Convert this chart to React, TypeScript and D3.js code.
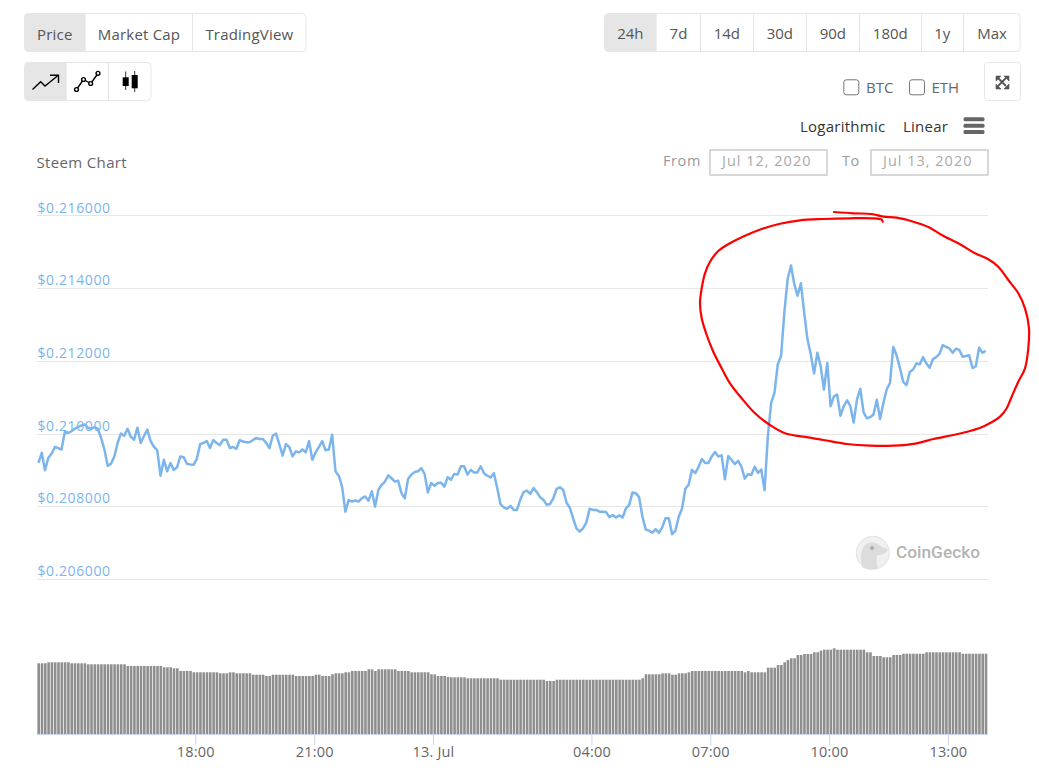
import React from "react";
import * as d3 from "d3";

// Price every five minutes, from 14:00 on 12 Jul 2020 (USD)
const prices = [
  0.20919,0.20947,0.20899,0.20933,0.20945,0.20963,0.20960,0.20956,0.21004,0.21002,0.21006,0.21013,
  0.21018,0.21022,0.21025,0.21016,0.21013,0.21018,0.21013,0.20988,0.20956,0.20911,0.20917,0.20937,
  0.20974,0.21000,0.20994,0.21013,0.20991,0.20983,0.21016,0.20974,0.20993,0.21011,0.20979,0.20963,
  0.20954,0.20884,0.20928,0.20896,0.20919,0.20900,0.20907,0.20937,0.20935,0.20917,0.20915,0.20914,
  0.20930,0.20971,0.20974,0.20979,0.20960,0.20982,0.20974,0.20968,0.20983,0.20983,0.20960,0.20963,
  0.20958,0.20982,0.20978,0.20976,0.20976,0.20982,0.20988,0.20985,0.20985,0.20974,0.20960,0.20994,
  0.21000,0.20970,0.20939,0.20971,0.20963,0.20937,0.20951,0.20948,0.20956,0.20948,0.20979,0.20928,
  0.20948,0.20963,0.20979,0.20954,0.20956,0.20997,0.20896,0.20884,0.20854,0.20785,0.20817,0.20813,
  0.20816,0.20813,0.20822,0.20827,0.20815,0.20841,0.20799,0.20845,0.20859,0.20868,0.20885,0.20877,
  0.20868,0.20870,0.20836,0.20822,0.20875,0.20887,0.20894,0.20896,0.20905,0.20889,0.20838,0.20864,
  0.20856,0.20864,0.20865,0.20854,0.20880,0.20873,0.20889,0.20887,0.20910,0.20910,0.20887,0.20900,
  0.20893,0.20893,0.20910,0.20891,0.20884,0.20879,0.20891,0.20850,0.20806,0.20797,0.20793,0.20801,
  0.20790,0.20790,0.20818,0.20839,0.20843,0.20834,0.20850,0.20839,0.20825,0.20818,0.20804,0.20806,
  0.20822,0.20848,0.20852,0.20845,0.20810,0.20796,0.20767,0.20739,0.20730,0.20739,0.20755,0.20793,
  0.20790,0.20790,0.20785,0.20785,0.20784,0.20770,0.20776,0.20769,0.20775,0.20769,0.20794,0.20804,
  0.20838,0.20836,0.20825,0.20771,0.20736,0.20733,0.20727,0.20737,0.20727,0.20742,0.20767,0.20767,
  0.20723,0.20733,0.20771,0.20794,0.20848,0.20859,0.20900,0.20891,0.20908,0.20930,0.20919,0.20919,
  0.20937,0.20949,0.20937,0.20940,0.20874,0.20938,0.20927,0.20916,0.20925,0.20909,0.20876,0.20888,
  0.20886,0.20909,0.20892,0.20901,0.20844,0.20992,0.21084,0.21112,0.21190,0.21213,0.21333,0.21425,
  0.21462,0.21411,0.21379,0.21413,0.21333,0.21259,0.21218,0.21165,0.21222,0.21185,0.21121,0.21194,
  0.21075,0.21102,0.21107,0.21049,0.21075,0.21091,0.21075,0.21030,0.21093,0.21123,0.21058,0.21042,
  0.21045,0.21052,0.21093,0.21040,0.21084,0.21121,0.21139,0.21238,0.21215,0.21181,0.21142,0.21133,
  0.21169,0.21176,0.21193,0.21190,0.21210,0.21193,0.21181,0.21204,0.21210,0.21219,0.21243,0.21238,
  0.21234,0.21222,0.21233,0.21230,0.21211,0.21213,0.21215,0.21180,0.21185,0.21236,0.21222,0.21227,
];

// Traded volume for the same five-minute points (relative units)
const volumes = [
  71.2,71.2,71.2,72.2,72.2,72.2,72.2,72.2,72.2,72.2,71.2,71.2,71.2,71.2,71.2,70.2,70.2,70.2,70.2,70.2,70.2,70.2,70.2,70.2,
  70.2,70.2,70.2,68.5,68.5,68.5,68.5,68.5,68.5,68.5,68.5,68.5,68.5,68.5,67.2,67.2,67.2,66.2,66.2,63.5,63.5,63.5,63.5,62.2,
  62.2,62.2,62.2,62.2,62.2,62.2,62.2,61.2,61.2,61.2,62.2,62.2,61.2,61.2,61.2,61.2,61.2,59.8,59.8,59.8,59.8,58.5,58.5,59.8,
  59.8,59.8,59.8,59.8,59.8,59.8,58.5,58.5,58.5,58.5,58.5,58.5,59.8,59.8,58.5,58.5,58.5,60.2,61.2,61.2,61.2,62.2,62.2,63.5,
  63.5,63.5,63.5,63.5,65.2,65.2,63.5,65.2,65.2,65.2,65.2,65.2,65.2,63.5,63.5,63.5,63.5,62.2,62.2,62.2,62.2,62.2,62.2,60.2,
  60.2,58.5,58.5,58.5,57.5,57.2,57.2,57.2,57.2,57.2,56.2,56.2,56.2,56.2,56.2,56.2,56.2,56.2,56.2,56.2,54.8,54.8,54.8,54.8,
  54.8,54.8,54.8,54.8,54.8,54.8,54.8,54.8,54.8,54.8,53.5,53.5,53.5,54.8,54.8,54.8,54.8,54.8,54.8,54.8,54.8,54.8,54.8,54.8,
  54.8,54.8,54.8,54.8,54.8,54.8,54.8,54.8,54.8,54.8,54.8,54.8,54.8,54.8,54.8,56.2,60.2,60.2,60.2,60.2,60.2,61.2,61.2,61.2,
  59.8,59.8,61.2,61.2,61.2,62.2,63.5,63.5,63.5,63.5,63.5,63.5,63.5,63.5,63.5,63.5,63.5,63.5,63.5,63.5,63.5,63.5,62.2,63.5,
  62.2,62.2,62.2,62.2,62.2,66.8,66.8,66.8,69.5,69.5,72.2,74.5,76.2,76.2,79.5,79.5,80.5,80.5,80.5,82.2,82.2,83.8,84.8,84.8,
  84.8,86.2,84.8,84.8,84.8,84.8,84.8,84.8,84.8,84.8,84.8,82.2,82.2,78.5,78.5,78.5,77.2,77.2,77.2,79.5,79.5,79.5,80.8,80.8,
  80.8,80.8,80.8,80.8,80.8,82.2,82.2,82.2,82.2,82.2,82.2,82.2,82.2,82.2,82.2,82.2,80.8,80.8,80.8,80.8,80.8,80.8,80.8,80.8,
];

const priceTicks = [0.206, 0.208, 0.21, 0.212, 0.214, 0.216];
const timeTicks: [number, number, string][] = [
  [12, 18, "18:00"], [12, 21, "21:00"], [13, 0, "13. Jul"], [13, 4, "04:00"], [13, 7, "07:00"], [13, 10, "10:00"], [13, 13, "13:00"],
];
const rangeButtons = ["24h", "7d", "14d", "30d", "90d", "180d", "1y", "Max"];
const rangeEdges = [604, 656.7, 700.3, 753.3, 806.3, 859.3, 921.3, 963.3, 1020.7];
const viewButtons = ["Price", "Market Cap", "TradingView"];
const viewEdges = [24, 85.7, 192.3, 306.5];
const iconEdges = [24, 66.7, 108.3, 151.5];

// The hand-drawn red ring, as screen points
const ringPoints: [number, number][] = [
  [882.7,221.7],[881.7,219.7],[871.7,218.3],[850,218.3],[823.3,219],[800,220.3],[780,223.7],[761.7,229],[745,235.7],[731.7,242.3],
  [718.3,251],[710,261.7],[705,273.3],[701.7,288.3],[700,303.3],[701.7,318.3],[706.7,335],[713.3,351.7],[721.7,368.3],[730,383.3],
  [741.7,398.3],[755,413.3],[770,425],[785,433.3],[803.3,436.7],[823.3,440],[846.7,444],[870,445.7],[893.3,445.7],[916.7,443.3],
  [933.3,439],[953.3,435],[970,431],[985,425.7],[1000,416.7],[1006.7,408.3],[1011.7,396.7],[1018.3,381.7],[1025,368.3],[1028.3,348.3],
  [1029,328.3],[1025,308.3],[1018.3,293.3],[1008.3,280],[998.3,266.7],[988.3,259.3],[975,253.3],[960,244.3],[941.7,235],[928.3,227],
  [913.3,221.7],[896.7,217.7],[883.3,216.7],[871.7,214],[853.3,213.3],[834,212],
];

const W = 1039;
const H = 781;
const FONT = "'Open Sans', 'Noto Sans', sans-serif";
const start = Date.UTC(2020, 6, 12, 14);
const end = Date.UTC(2020, 6, 13, 14);
const STEP = 5 * 60 * 1000;

function ButtonGroup({ edges, top, bottom, active }: { edges: number[]; top: number; bottom: number; active: number }) {
  const left = edges[0];
  const right = edges[edges.length - 1];
  return (
    <g>
      <rect x={left + 0.5} y={top + 0.5} width={right - left - 1} height={bottom - top - 1} rx={4} fill="#fff" stroke="#e6e6e6" />
      <path
        d={`M${edges[active + 1]},${top + 0.5}H${left + 4.5}a4,4 0 0 0 -4,4V${bottom - 4.5}a4,4 0 0 0 4,4H${edges[active + 1]}Z`}
        fill="#e6e6e6"
      />
      {edges.slice(active + 2, -1).map((x) => (
        <line key={x} x1={Math.floor(x) + 0.5} x2={Math.floor(x) + 0.5} y1={top} y2={bottom} stroke="#e6e6e6" />
      ))}
    </g>
  );
}

export default function App() {
  const x = d3.scaleUtc().domain([start, end]).range([37.4, 988]);
  const y = d3.scaleLinear().domain([0.206, 0.216]).range([579, 215.3]);
  const v = d3.scaleLinear().domain([0, 90]).range([734.5, 644.5]);

  const line = d3
    .line<number>()
    .x((_, i) => x(start + i * STEP) + 1)
    .y((d) => y(d));
  const ring = d3.line().curve(d3.curveCatmullRom.alpha(0.5));

  return (
    <svg width={W} height={H} viewBox={`0 0 ${W} ${H}`} style={{ position: "absolute", left: 0, top: 0, display: "block" }} fontFamily={FONT}>
      <rect width={W} height={H} fill="#fff" />

      {/* Top controls */}
      <ButtonGroup edges={viewEdges} top={13} bottom={52} active={0} />
      {viewButtons.map((t, i) => (
        <text key={t} x={(viewEdges[i] + viewEdges[i + 1]) / 2} y={39.5} textAnchor="middle" fontSize={15} letterSpacing={0.2} fill="#555">{t}</text>
      ))}
      <ButtonGroup edges={rangeEdges} top={13} bottom={52} active={0} />
      {rangeButtons.map((t, i) => (
        <text key={t} x={(rangeEdges[i] + rangeEdges[i + 1]) / 2} y={39} textAnchor="middle" fontSize={15} fill="#555">{t}</text>
      ))}
      <ButtonGroup edges={iconEdges} top={62} bottom={101} active={0} />

      {/* Chart type icons */}
      <g fill="none" stroke="#000" strokeWidth={1.4}>
        <path d="M32.5,89.5L40.7,81.7L45,86L58,75.5" />
        <path d="M50,75.2H58.5V83" />
        <path d="M76.5,89.5L83.5,79.5M83.5,79.5L90.7,83.5M90.7,83.5L98,73.5" />
        <circle cx={76.5} cy={89.5} r={1.9} fill="#fff" />
        <circle cx={83.5} cy={79.5} r={1.9} fill="#fff" />
        <circle cx={90.7} cy={83.5} r={1.9} fill="#fff" />
        <circle cx={98} cy={73.3} r={1.9} fill="#fff" />
        <path d="M125.7,71.5V90M134.7,71V92" stroke="#333" strokeWidth={1} />
      </g>
      <rect x={122.7} y={77.3} width={6} height={8.7} fill="#000" />
      <rect x={131.7} y={75} width={6} height={13.3} fill="#000" />

      {/* Comparison toggles */}
      <rect x={843.8} y={79.8} width={15} height={15} rx={2.5} fill="#fff" stroke="#767676" />
      <text x={866} y={92.5} fontSize={15} fill="#666">BTC</text>
      <rect x={909.5} y={79.8} width={15} height={15} rx={2.5} fill="#fff" stroke="#767676" />
      <text x={931.5} y={92.5} fontSize={15} fill="#666">ETH</text>
      <rect x={984.5} y={62.5} width={36} height={38} rx={3} fill="#fff" stroke="#e6e6e6" />
      <g stroke="#555" strokeWidth={1.8} fill="#555">
        <path d="M998,78L1006,86M1006,78L998,86" fill="none" />
        <path d="M996,76H1001L996,81ZM1009,76H1004L1009,81ZM996,89H1001L996,84ZM1009,89H1004L1009,84Z" strokeWidth={0.6} />
      </g>

      {/* Scale switch */}
      <text x={800} y={132} fontSize={15} letterSpacing={0.25} fill="#333">Logarithmic</text>
      <text x={903} y={132} fontSize={15} letterSpacing={0.25} fill="#333">Linear</text>
      <g fill="#666">
        <rect x={963.5} y={117.3} width={21} height={4} rx={1.5} />
        <rect x={963.5} y={123.7} width={21} height={4} rx={1.5} />
        <rect x={963.5} y={130} width={21} height={4} rx={1.5} />
      </g>

      {/* Title and date range */}
      <text x={36.5} y={168} fontSize={15} letterSpacing={0.35} fill="#666">Steem Chart</text>
      <text x={663} y={166} fontSize={14.5} fill="#999" letterSpacing={0.6}>From</text>
      <rect x={710} y={150} width={117} height={25} fill="#fff" stroke="#ccc" strokeWidth={1.5} />
      <text x={722} y={166} fontSize={14.5} fill="#aaa" letterSpacing={1}>Jul 12, 2020</text>
      <text x={842} y={166} fontSize={14.5} fill="#999" letterSpacing={0.6}>To</text>
      <rect x={871} y={150} width={117} height={25} fill="#fff" stroke="#ccc" strokeWidth={1.5} />
      <text x={883} y={166} fontSize={14.5} fill="#aaa" letterSpacing={1}>Jul 13, 2020</text>

      {/* Grid */}
      {priceTicks.map((t) => (
        <line key={t} x1={37} x2={988} y1={Math.round(y(t)) + 0.5} y2={Math.round(y(t)) + 0.5} stroke="#e6e6e6" />
      ))}

      {/* Watermark */}
      <g>
        <circle cx={872.8} cy={552.8} r={16.5} fill="#f0f0f0" stroke="#e2e2e2" strokeWidth={1} />
        <path d="M862,567C860,556 861,546 868,543C873,541 878,544 882,547L888,549C887,553 882,555 877,555C876,560 877,564 878,568C872,570 866,570 862,567Z" fill="#dcdcdc" />
        <circle cx={872} cy={548} r={2} fill="#aaa" />
        <text x={896} y={558} fontFamily="Roboto, sans-serif" fontWeight={500} fontSize={17.3} fill="#b4b4b4">CoinGecko</text>
      </g>

      {/* Volume */}
      {volumes.map((d, i) => (
        <rect key={i} x={x(start + i * STEP)} y={v(d)} width={2.6} height={v(0) - v(d)} fill="#8f8f8f" />
      ))}
      <line x1={37} x2={988} y1={734.5} y2={734.5} stroke="#ccd6eb" />
      {timeTicks.map(([day, hour, label]) => {
        const px = x(Date.UTC(2020, 6, day, hour));
        return (
          <g key={label}>
            <line x1={px} x2={px} y1={735} y2={745} stroke="#ccd6eb" />
            <text x={px} y={757} textAnchor="middle" fontSize={14.5} letterSpacing={0.2} fill="#666">{label}</text>
          </g>
        );
      })}

      {/* Price */}
      <path d={line(prices) ?? ""} fill="none" stroke="#7cb5ec" strokeWidth={2.5} strokeLinejoin="round" />
      {priceTicks.map((t) => (
        <text key={t} x={37.5} y={y(t) - 2.8} fontSize={14} fill="#7cb5ec" letterSpacing={0.6}>{d3.format("$.6f")(t)}</text>
      ))}

      {/* Annotation */}
      <path d={ring(ringPoints) ?? ""} fill="none" stroke="#f00" strokeWidth={2.2} strokeLinecap="round" strokeLinejoin="round" />
    </svg>
  );
}
